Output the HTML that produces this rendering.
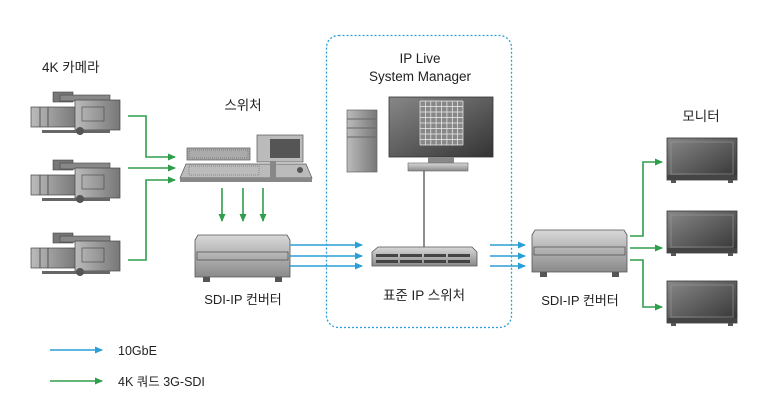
<!DOCTYPE html>
<html><head><meta charset="utf-8"><style>
html,body{margin:0;padding:0;background:#fff;}
svg{display:block;}
text{font-family:"Liberation Sans","Noto Sans CJK KR",sans-serif;fill:#222;}
</style></head><body>
<svg width="768" height="416" viewBox="0 0 768 416" xmlns="http://www.w3.org/2000/svg">
<defs>
<linearGradient id="g1" x1="0" y1="0" x2="0" y2="1"><stop offset="0" stop-color="#d8d8d8"/><stop offset="1" stop-color="#8a8a8a"/></linearGradient>
<linearGradient id="g2" x1="0" y1="0" x2="1" y2="1"><stop offset="0" stop-color="#888"/><stop offset="1" stop-color="#333"/></linearGradient>
<linearGradient id="g3" x1="0" y1="0" x2="1" y2="0"><stop offset="0" stop-color="#bbb"/><stop offset="1" stop-color="#777"/></linearGradient>
<marker id="ag" markerWidth="8" markerHeight="8" refX="7" refY="4" orient="auto" markerUnits="userSpaceOnUse"><path d="M0,0.5 L8,4 L0,7.5z" fill="#2e9e4a"/></marker>
<marker id="ab" markerWidth="8" markerHeight="8" refX="7" refY="4" orient="auto" markerUnits="userSpaceOnUse"><path d="M0,0.5 L8,4 L0,7.5z" fill="#2a9fd6"/></marker>
<g id="cam">
<rect x="53" y="7" width="20" height="10" fill="#777" stroke="#444" stroke-width="0.6"/>
<rect x="60" y="10" width="50" height="6" fill="#888" stroke="#444" stroke-width="0.6"/>
<rect x="31" y="22" width="46" height="20" fill="url(#g3)" stroke="#444" stroke-width="0.7"/>
<line x1="40" y1="22" x2="40" y2="42" stroke="#555"/><line x1="48" y1="22" x2="48" y2="42" stroke="#555"/>
<rect x="75" y="15" width="45" height="30" fill="url(#g3)" stroke="#444" stroke-width="0.7"/>
<rect x="82" y="22" width="22" height="14" fill="none" stroke="#444" stroke-width="0.6"/>
<rect x="42" y="45" width="68" height="3" fill="#666"/>
<circle cx="80" cy="46" r="4" fill="#555"/>
</g>
<g id="mon">
<rect x="0" y="0" width="70" height="42" fill="url(#g2)" stroke="#333" stroke-width="0.8"/>
<rect x="4" y="4" width="62" height="32" fill="none" stroke="#999" stroke-width="0.6"/>
<rect x="0" y="37" width="70" height="5" fill="#444"/>
<rect x="4" y="42" width="5" height="3" fill="#555"/><rect x="61" y="42" width="5" height="3" fill="#555"/>
</g>
<g id="conv">
<path d="M3,0 L92,0 L95,5 L95,42 L0,42 L0,5 Z" fill="url(#g1)" stroke="#555" stroke-width="0.8"/>
<rect x="2" y="17" width="91" height="8" fill="none" stroke="#555" stroke-width="0.8"/>
<rect x="8" y="42" width="7" height="5" fill="#555"/><rect x="80" y="42" width="7" height="5" fill="#555"/>
</g>
</defs>

<rect x="326.5" y="35.5" width="185" height="292" rx="12" fill="none" stroke="#2a9fd6" stroke-width="1.3" stroke-dasharray="2,2"/>

<text x="42" y="72" font-size="13.5">4K 카메라</text>
<use href="#cam" x="0" y="85"/>
<use href="#cam" x="0" y="153"/>
<use href="#cam" x="0" y="226"/>

<g fill="none" stroke="#2e9e4a" stroke-width="1.6">
<path d="M128,116 H146 V157 H175" marker-end="url(#ag)"/>
<path d="M128,168 H175" marker-end="url(#ag)"/>
<path d="M128,260 H146 V180 H175" marker-end="url(#ag)"/>
<path d="M222,188 V221" marker-end="url(#ag)"/>
<path d="M243,188 V221" marker-end="url(#ag)"/>
<path d="M263,188 V221" marker-end="url(#ag)"/>
<path d="M630,236 H643 V162 H662" marker-end="url(#ag)"/>
<path d="M630,248 H662" marker-end="url(#ag)"/>
<path d="M630,260 H643 V307 H662" marker-end="url(#ag)"/>
<path d="M50,381 H102" marker-end="url(#ag)"/>
</g>

<text x="243" y="110" font-size="13.5" text-anchor="middle">스위처</text>
<!-- switcher -->
<rect x="187" y="148" width="63" height="12" fill="#aaa" stroke="#555" stroke-width="0.7"/>
<rect x="189" y="150" width="59" height="8" fill="none" stroke="#555" stroke-width="0.5" stroke-dasharray="1,1"/>
<rect x="257" y="135" width="46" height="27" fill="#bbb" stroke="#555" stroke-width="0.7"/>
<rect x="270" y="139" width="30" height="19" fill="#555"/>
<path d="M186,164 L306,164 L312,178 L180,178 Z" fill="#bbb" stroke="#555" stroke-width="0.7"/>
<rect x="180" y="178" width="132" height="4" fill="#888"/>
<rect x="189" y="166" width="70" height="9" fill="none" stroke="#555" stroke-width="0.5" stroke-dasharray="1,1"/>
<rect x="270" y="161" width="6" height="17" fill="#888"/>
<circle cx="300" cy="170" r="3" fill="#555"/>

<use href="#conv" x="195" y="235"/>
<text x="243" y="304" font-size="13" text-anchor="middle">SDI-IP 컨버터</text>

<g fill="none" stroke="#2a9fd6" stroke-width="1.6">
<path d="M290,245 H362" marker-end="url(#ab)"/>
<path d="M290,256 H362" marker-end="url(#ab)"/>
<path d="M290,266 H362" marker-end="url(#ab)"/>
<path d="M490,245 H525" marker-end="url(#ab)"/>
<path d="M490,256 H525" marker-end="url(#ab)"/>
<path d="M490,266 H525" marker-end="url(#ab)"/>
<path d="M50,350 H102" marker-end="url(#ab)"/>
</g>

<text x="420" y="63" font-size="13.5" text-anchor="middle">IP Live</text>
<text x="420" y="81" font-size="13.5" text-anchor="middle">System Manager</text>
<!-- tower -->
<rect x="347" y="110" width="30" height="62" fill="url(#g3)" stroke="#666" stroke-width="0.7"/>
<line x1="347" y1="119" x2="377" y2="119" stroke="#666"/><line x1="347" y1="128" x2="377" y2="128" stroke="#666"/><line x1="347" y1="137" x2="377" y2="137" stroke="#666"/>
<!-- monitor -->
<rect x="389" y="97" width="104" height="60" fill="url(#g2)" stroke="#333" stroke-width="0.8"/>
<rect x="420" y="101" width="43" height="44" fill="#888"/>
<g stroke="#eee" stroke-width="0.7">
<path d="M420,101 V145 M425.4,101 V145 M430.8,101 V145 M436.1,101 V145 M441.5,101 V145 M446.9,101 V145 M452.3,101 V145 M457.6,101 V145 M463,101 V145"/>
<path d="M420,101 H463 M420,106.5 H463 M420,112 H463 M420,117.5 H463 M420,123 H463 M420,128.5 H463 M420,134 H463 M420,139.5 H463 M420,145 H463"/>
</g>
<rect x="428" y="157" width="26" height="7" fill="#888"/>
<rect x="408" y="163" width="60" height="8" fill="url(#g1)" stroke="#666" stroke-width="0.6"/>
<line x1="424" y1="171" x2="424" y2="248" stroke="#444" stroke-width="1.2"/>
<!-- IP switch -->
<path d="M378,247 L472,247 L477,252 L477,266 L372,266 L372,252 Z" fill="url(#g1)" stroke="#555" stroke-width="0.8"/>
<g fill="#444"><rect x="376" y="254" width="22" height="3"/><rect x="400" y="254" width="22" height="3"/><rect x="424" y="254" width="22" height="3"/><rect x="448" y="254" width="22" height="3"/>
<rect x="376" y="260" width="22" height="3"/><rect x="400" y="260" width="22" height="3"/><rect x="424" y="260" width="22" height="3"/><rect x="448" y="260" width="22" height="3"/></g>
<text x="424" y="300" font-size="13.5" text-anchor="middle">표준 IP 스위처</text>

<use href="#conv" x="532" y="230"/>
<text x="580" y="305" font-size="13" text-anchor="middle">SDI-IP 컨버터</text>

<text x="701" y="121" font-size="13.5" text-anchor="middle">모니터</text>
<use href="#mon" x="667" y="138"/>
<use href="#mon" x="667" y="211"/>
<use href="#mon" x="667" y="281"/>

<text x="118" y="355" font-size="12.5">10GbE</text>
<text x="118" y="386" font-size="12.5">4K 쿼드 3G-SDI</text>
</svg>
</body></html>
